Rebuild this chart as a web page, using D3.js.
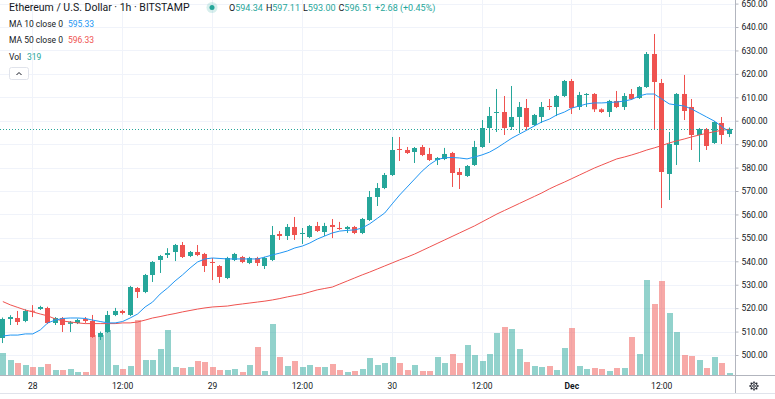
<!DOCTYPE html>
<html>
<head>
<meta charset="utf-8">
<script src="https://cdn.jsdelivr.net/npm/d3@7"></script>
<style>
  body { margin: 0; background: #fff; }
  svg { display: block; font-family: Roboto, "Liberation Sans", sans-serif; }
</style>
</head>
<body>
<div id="chart"></div>
<script>
// SVG size
const width = 775;
const height = 399;
const plot = { right: 735.5, bottom: 375 }; // price pane ends here, axes outside

// one candle per hour, hour 0 = 28 Nov 00:00, first candle 27 Nov 20:00
const firstHour = -4;

const open = [
  507.26, 515.37, 515.80, 514.52, 518.90, 519.64, 520.06, 513.66, 515.80, 513.30,
  513.66, 515.37, 514.52, 507.69, 509.82, 517.08, 518.79, 517.08, 528.60, 526.90,
  534.15, 540.56, 542.69, 543.97, 546.96, 542.26, 543.97, 543.12, 539.70, 537.99,
  532.87, 540.56, 541.84, 539.28, 541.41, 537.99, 540.56, 551.65, 550.80, 554.65,
  551.65, 550.37, 555.07, 552.50, 555.50, 554.22, 553.79, 554.65, 552.08, 557.63,
  567.45, 571.29, 576.84, 587.94, 587.51, 586.66, 588.79, 585.81, 583.24, 583.67,
  586.23, 578.12, 576.41, 581.11, 588.79, 596.90, 603.30, 603.73, 597.33, 601.60,
  605.44, 598.18, 601.60, 606.29, 605.87, 610.56, 616.96, 605.87, 610.99, 611.42,
  604.87, 603.73, 608.43, 605.87, 611.42, 609.71, 614.40, 628.49, 616.11, 577.27,
  589.65, 611.42, 605.87, 593.91, 596.47, 590.50, 599.04, 594.34
];
const high = [
  516.00, 517.00, 518.80, 519.50, 521.30, 521.00, 520.60, 516.20, 516.20, 514.50,
  515.50, 516.20, 517.10, 510.00, 518.80, 520.10, 519.30, 529.50, 529.00, 534.60,
  540.10, 542.70, 545.60, 547.40, 548.24, 544.40, 546.96, 543.60, 541.40, 538.40,
  541.90, 543.60, 542.30, 541.90, 541.90, 541.90, 555.07, 552.90, 555.90, 558.91,
  554.20, 555.50, 556.80, 556.40, 558.06, 556.80, 555.10, 555.10, 558.50, 570.01,
  573.40, 577.70, 593.06, 593.06, 588.80, 588.80, 589.65, 588.40, 584.50, 588.40,
  586.70, 579.83, 581.10, 591.40, 600.30, 605.87, 613.55, 610.56, 614.83, 608.00,
  609.28, 602.90, 608.00, 609.28, 611.00, 617.40, 617.82, 612.30, 611.80, 611.80,
  605.30, 608.90, 612.70, 611.80, 613.55, 614.80, 629.34, 637.03, 617.82, 595.19,
  611.80, 619.53, 609.28, 596.90, 596.90, 599.90, 601.60, 597.11
];
const low = [
  505.10, 512.80, 512.80, 514.00, 516.20, 519.20, 513.20, 512.80, 509.82, 509.80,
  513.20, 513.70, 507.30, 506.40, 509.40, 516.60, 517.30, 516.60, 524.33, 526.40,
  531.17, 535.01, 541.40, 540.10, 541.40, 541.80, 542.20, 535.43, 532.00, 530.74,
  532.40, 540.10, 539.20, 538.80, 538.00, 536.70, 540.10, 549.10, 549.10, 549.09,
  547.40, 549.90, 552.50, 550.80, 549.90, 553.40, 552.10, 551.60, 551.60, 557.20,
  563.60, 570.80, 576.40, 582.82, 585.80, 581.96, 584.90, 582.80, 581.10, 583.20,
  571.72, 570.86, 576.00, 580.70, 588.40, 590.50, 595.19, 593.91, 596.05, 594.77,
  596.05, 597.70, 599.04, 604.60, 602.00, 610.10, 602.88, 604.60, 605.87, 603.73,
  603.30, 601.60, 605.40, 604.60, 608.90, 609.30, 614.00, 596.05, 562.75, 566.17,
  581.11, 600.30, 587.51, 582.39, 587.51, 590.10, 590.07, 593.00
];
const close = [
  515.37, 516.22, 514.09, 518.79, 518.60, 520.49, 513.66, 515.80, 512.81, 514.00,
  514.94, 514.52, 507.69, 509.39, 517.08, 518.79, 517.93, 529.03, 526.90, 534.15,
  539.70, 542.26, 543.54, 546.96, 541.84, 543.97, 542.69, 537.99, 539.40, 533.30,
  541.41, 543.12, 539.70, 541.41, 539.28, 541.41, 551.23, 550.80, 554.65, 551.23,
  552.08, 555.07, 552.93, 555.07, 554.65, 553.79, 554.65, 552.08, 558.06, 567.45,
  571.29, 576.84, 587.51, 587.51, 586.23, 588.36, 585.38, 583.24, 584.10, 585.81,
  577.69, 576.84, 580.68, 588.79, 596.90, 602.02, 603.73, 596.90, 601.60, 605.87,
  597.33, 602.45, 605.87, 605.87, 610.56, 616.96, 605.44, 610.99, 611.42, 604.87,
  603.73, 608.43, 605.87, 610.56, 609.28, 614.40, 628.49, 616.54, 578.12, 590.07,
  611.42, 604.16, 593.91, 596.47, 589.22, 599.46, 593.91, 596.51
];
const volume = [
  3520, 2400, 1920, 1600, 1280, 1280, 1760, 800, 800, 960,
  480, 480, 6400, 6400, 7200, 1600, 960, 1440, 8800, 2400,
  2400, 4160, 7200, 1280, 1120, 1280, 2240, 2080, 1280, 800,
  800, 960, 480, 1600, 4480, 640, 8160, 2880, 1440, 2240,
  1280, 1600, 1280, 1280, 1760, 800, 480, 640, 960, 2720,
  1600, 1920, 2880, 1920, 800, 1600, 640, 640, 2880, 1920,
  3360, 1920, 4800, 3200, 2240, 3360, 6720, 7680, 7360, 4160,
  2080, 1440, 1280, 1440, 800, 4320, 7520, 1440, 960, 1120,
  960, 640, 1120, 1120, 6080, 3360, 15200, 11360, 15040, 9920,
  6880, 3200, 3040, 2400, 1120, 2880, 1920, 319
];
const ma10 = [
  508.1, 508.5, 508.5, 509.0, 509.0, 510.7, 513.7, 514.9, 515.6, 515.8,
  515.8, 515.6, 514.9, 514.3, 513.7, 513.7, 514.3, 515.8, 517.5, 520.5,
  522.6, 526.0, 528.6, 531.6, 534.2, 537.1, 539.7, 541.0, 541.4, 541.2,
  541.0, 541.0, 541.0, 541.0, 541.0, 541.8, 542.7, 543.5, 544.4, 545.7,
  546.5, 547.8, 549.5, 550.8, 552.1, 552.9, 553.2, 553.4, 554.2, 556.0,
  558.3, 560.6, 564.5, 568.3, 571.7, 575.1, 578.5, 581.3, 583.4, 584.2,
  584.3, 584.1, 583.7, 584.5, 585.4, 586.6, 588.4, 590.5, 592.6, 594.3,
  596.0, 597.8, 599.5, 600.7, 602.5, 603.7, 605.4, 606.3, 607.2, 607.6,
  607.6, 607.8, 608.0, 608.4, 609.1, 610.6, 611.4, 611.4, 609.3, 607.2,
  606.7, 606.3, 605.0, 603.3, 601.6, 599.9, 597.6, 595.33
];
const ma50 = [
  522.8, 521.4, 520.3, 519.2, 518.4, 517.5, 516.7, 515.4, 514.5, 514.1,
  513.7, 513.4, 513.4, 513.4, 513.4, 513.4, 513.7, 513.7, 514.1, 514.9,
  515.8, 516.4, 517.1, 517.7, 518.4, 519.0, 519.6, 520.1, 520.5, 520.7,
  520.9, 521.4, 521.8, 522.2, 522.6, 523.0, 523.5, 524.1, 524.8, 525.4,
  526.0, 526.9, 527.8, 528.4, 529.0, 530.3, 531.6, 532.9, 534.2, 535.4,
  536.7, 538.0, 539.3, 540.6, 541.8, 543.1, 544.6, 546.1, 547.6, 549.1,
  550.6, 552.1, 553.6, 555.1, 556.8, 558.5, 560.2, 561.7, 563.2, 564.7,
  566.2, 567.7, 569.2, 570.9, 572.4, 573.8, 575.3, 576.8, 578.3, 579.8,
  581.1, 582.4, 583.7, 584.5, 585.4, 586.4, 587.5, 588.4, 589.4, 590.5,
  591.4, 592.2, 593.1, 593.9, 594.6, 595.3, 595.9, 596.33
];

// axis ticks
const priceTicks = [500, 510, 520, 530, 540, 550, 560, 570, 580, 590, 600, 610, 620, 630, 640, 650];
const timeTicks = [0, 12, 24, 36, 48, 60, 72, 84];
const timeLabels = ["28", "12:00", "29", "12:00", "30", "12:00", "Dec", "12:00"];

const upColor = "#26a69a";
const downColor = "#ef5350";
const textColor = "#131722";

const candles = open.map((o, i) => ({
  hour: firstHour + i,
  o: o, h: high[i], l: low[i], c: close[i], v: volume[i],
  m10: ma10[i], m50: ma50[i]
}));
const last = candles[candles.length - 1];

const svg = d3.select("#chart")
  .append("svg")
  .attr("width", width)
  .attr("height", height);

// Scales
const x = d3.scaleLinear().domain([0, 84]).range([32.3, 661.2]);
const y = d3.scaleLinear().domain([500, 650]).range([355, 3.6]);
const yVol = d3.scaleLinear().domain([0, d3.max(volume)]).range([plot.bottom, 280]);

svg.append("clipPath").attr("id", "pane")
  .append("rect").attr("x", 0).attr("y", 0).attr("width", plot.right).attr("height", plot.bottom);

// grid
const grid = svg.append("g").attr("stroke", "#f0f3fa").attr("stroke-width", 1);
grid.selectAll(".hg").data(priceTicks).enter().append("line")
  .attr("x1", 0).attr("x2", plot.right)
  .attr("y1", d => Math.round(y(d)) + 0.5).attr("y2", d => Math.round(y(d)) + 0.5);
grid.selectAll(".vg").data(timeTicks).enter().append("line")
  .attr("y1", 0).attr("y2", plot.bottom)
  .attr("x1", d => Math.round(x(d)) + 0.5).attr("x2", d => Math.round(x(d)) + 0.5);

const pane = svg.append("g").attr("clip-path", "url(#pane)");

// volume bars
pane.append("g").selectAll("rect")
  .data(candles)
  .enter()
  .append("rect")
  .attr("x", d => Math.round(x(d.hour)) - 2.5)
  .attr("width", 6)
  .attr("y", d => yVol(d.v))
  .attr("height", d => plot.bottom - yVol(d.v))
  .attr("fill", d => d.c >= d.o ? upColor : downColor)
  .attr("fill-opacity", 0.5)
  .attr("shape-rendering", "crispEdges");

// candles
const candle = pane.append("g").selectAll("g")
  .data(candles)
  .enter()
  .append("g")
  .attr("fill", d => d.c >= d.o ? upColor : downColor)
  .attr("stroke", d => d.c >= d.o ? upColor : downColor);

candle.append("line")
  .attr("x1", d => Math.round(x(d.hour)) + 0.5)
  .attr("x2", d => Math.round(x(d.hour)) + 0.5)
  .attr("y1", d => y(d.h))
  .attr("y2", d => y(d.l))
  .attr("stroke-width", 1);

candle.append("rect")
  .attr("x", d => Math.round(x(d.hour)) - 2)
  .attr("width", 5)
  .attr("y", d => y(Math.max(d.o, d.c)))
  .attr("height", d => Math.max(1, Math.abs(y(d.o) - y(d.c))))
  .attr("stroke", "none");

// moving averages
const maLine = key => d3.line().x(d => x(d.hour) + 0.5).y(d => y(d[key]));
pane.append("path").datum(candles)
  .attr("d", maLine("m50"))
  .attr("fill", "none").attr("stroke", downColor).attr("stroke-width", 1);
pane.append("path").datum(candles)
  .attr("d", maLine("m10"))
  .attr("fill", "none").attr("stroke", "#2196f3").attr("stroke-width", 1);

// last price line
svg.append("line")
  .attr("x1", 0).attr("x2", plot.right)
  .attr("y1", Math.round(y(last.c)) + 0.5).attr("y2", Math.round(y(last.c)) + 0.5)
  .attr("stroke", upColor).attr("stroke-dasharray", "1,2");

// price axis
const yAxis = svg.append("g")
  .attr("transform", `translate(${plot.right}, 0)`)
  .call(d3.axisRight(y).tickValues(priceTicks).tickFormat(d3.format(".2f")).tickSize(3).tickPadding(3).tickSizeOuter(0));
yAxis.select(".domain").remove();
yAxis.selectAll("line").attr("stroke", "#b2b5be");
yAxis.selectAll("text").attr("fill", textColor).style("font-size", "8.5px").style("font-family", "Roboto, sans-serif");

// time axis
const xAxis = svg.append("g")
  .attr("transform", `translate(0, ${plot.bottom})`)
  .call(d3.axisBottom(x).tickValues(timeTicks).tickFormat((d, i) => timeLabels[i]).tickSize(0).tickPadding(8));
xAxis.select(".domain").remove();
xAxis.selectAll("text")
  .attr("fill", textColor)
  .style("font-size", "8.5px")
  .style("font-family", "Roboto, sans-serif")
  .style("font-weight", d => d === 72 ? "bold" : "normal");

// axis borders
svg.append("line").attr("x1", plot.right).attr("x2", plot.right).attr("y1", 0).attr("y2", 393)
  .attr("stroke", "#b2b5be");
svg.append("line").attr("x1", 0).attr("x2", width).attr("y1", plot.bottom + 0.5).attr("y2", plot.bottom + 0.5)
  .attr("stroke", "#b2b5be");
svg.append("line").attr("x1", 0).attr("x2", width).attr("y1", 393.5).attr("y2", 393.5)
  .attr("stroke", "#e0e3eb");

// gear icon
const gear = svg.append("g").attr("transform", "translate(754, 386)")
  .attr("stroke", textColor).attr("fill", "none").attr("stroke-width", 0.9);
gear.append("circle").attr("r", 3.2);
gear.append("circle").attr("r", 1.3);
gear.selectAll(".tooth").data(d3.range(8)).enter().append("line")
  .attr("x1", d => 3.2 * Math.cos(d * Math.PI / 4)).attr("y1", d => 3.2 * Math.sin(d * Math.PI / 4))
  .attr("x2", d => 4.6 * Math.cos(d * Math.PI / 4)).attr("y2", d => 4.6 * Math.sin(d * Math.PI / 4))
  .attr("stroke-width", 1.3);

// Legend
svg.append("text")
  .attr("x", 9).attr("y", 11)
  .attr("fill", textColor)
  .style("font-size", "10.5px")
  .text("Ethereum / U.S. Dollar \u00b7 1h \u00b7 BITSTAMP");

svg.append("circle").attr("cx", 212).attr("cy", 7.5).attr("r", 5.5).attr("fill", upColor).attr("fill-opacity", 0.18);
svg.append("circle").attr("cx", 212).attr("cy", 7.5).attr("r", 2.5).attr("fill", upColor);

const fmt = d3.format(".2f");
const change = last.c - close[close.length - 2] ;
const ohlc = svg.append("text").attr("x", 229).attr("y", 11).style("font-size", "9px").attr("fill", textColor);
[["O", last.o], ["H", last.h], ["L", last.l], ["C", last.c]].forEach((p, i) => {
  ohlc.append("tspan").attr("dx", i ? 3 : 0).text(p[0]);
  ohlc.append("tspan").attr("fill", upColor).text(fmt(p[1]));
});
ohlc.append("tspan").attr("dx", 3).attr("fill", upColor).text("+2.68 (+0.45%)");

const indicators = [
  { label: "MA 10 close 0", value: fmt(last.m10), color: "#2196f3", y: 26.5, vx: 68 },
  { label: "MA 50 close 0", value: fmt(last.m50), color: downColor, y: 43, vx: 68 },
  { label: "Vol", value: String(last.v), color: upColor, y: 59.5, vx: 27 }
];
indicators.forEach(d => {
  svg.append("text").attr("x", 9).attr("y", d.y).attr("fill", textColor)
    .style("font-size", "8.5px").text(d.label);
  svg.append("text").attr("x", d.vx).attr("y", d.y).attr("fill", d.color)
    .style("font-size", "8.5px").text(d.value);
});

// collapse button
svg.append("rect").attr("x", 9.5).attr("y", 67.5).attr("width", 19).attr("height", 12).attr("rx", 2)
  .attr("fill", "#fff").attr("stroke", "#e0e3eb");
svg.append("path").attr("d", "M16.5,75 L19,72.5 L21.5,75")
  .attr("fill", "none").attr("stroke", textColor).attr("stroke-width", 1);
</script>
</body>
</html>
